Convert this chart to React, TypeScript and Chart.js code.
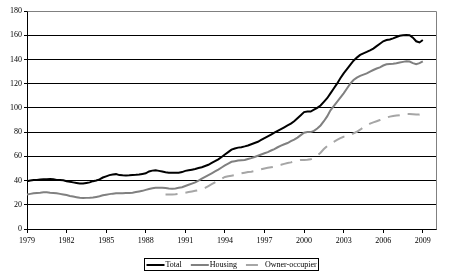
import React, { useEffect, useRef } from "react";
import { Chart, registerables } from "chart.js";

Chart.register(...registerables);

// Categories: quarters from 1979 Q1 to 2010 Q1 (axis end)
const firstYear = 1979;
const lastYear = 2009;
const quarterNames = ["Q1", "Q2", "Q3", "Q4"];
const labelStepQuarters = 12; // a label every 3 years

const yTicksMax = 180;
const yTicksStep = 20;

// Index, quarterly
const totalValues = [
  39.5, 40, 40.5, 40.5, // 1979
  40.8, 41, 41, 41.2, // 1980
  41, 40.5, 40.5, 40.2, // 1981
  39.5, 39, 38.5, 38, // 1982
  37.5, 37.5, 38, 38.5, // 1983
  39.5, 40, 41, 42.5, // 1984
  43.5, 44.5, 45, 45.3, // 1985
  44.5, 44.3, 44.2, 44.3, // 1986
  44.5, 44.7, 45, 45.5, // 1987
  46, 47.5, 48.2, 48.5, // 1988
  48, 47.5, 46.8, 46.5, // 1989
  46.5, 46.5, 46.5, 47, // 1990
  48, 48.5, 49, 49.5, // 1991
  50.3, 51, 52, 53, // 1992
  54.5, 56, 57.5, 59.5, // 1993
  61.5, 63.5, 65.5, 66.5, // 1994
  67.2, 67.5, 68.2, 69, // 1995
  70, 71, 72, 73.5, // 1996
  75, 76.5, 78, 79.5, // 1997
  81, 82.5, 84, 85.5, // 1998
  87, 89, 91.5, 94, // 1999
  96.5, 97, 97, 98.5, // 2000
  100, 102, 105, 108, // 2001
  112, 116, 120, 124.5, // 2002
  128.5, 132, 135.5, 139, // 2003
  141.5, 143.7, 145, 146.2, // 2004
  147.5, 149, 151, 153, // 2005
  155, 156, 156.5, 157.4, // 2006
  158.5, 159.5, 160, 160.2, // 2007
  160, 158, 155, 154, // 2008
  156, // 2009
];

const housingValues = [
  28.5, 29, 29.5, 29.8, // 1979
  30, 30.3, 30.3, 30, // 1980
  29.8, 29.5, 29, 28.5, // 1981
  28, 27.3, 26.8, 26.3, // 1982
  25.8, 25.6, 25.7, 25.8, // 1983
  26, 26.5, 27, 27.8, // 1984
  28.3, 28.8, 29.2, 29.5, // 1985
  29.5, 29.6, 29.7, 29.8, // 1986
  30, 30.5, 31, 31.5, // 1987
  32.3, 33, 33.6, 34, // 1988
  34, 34.1, 33.8, 33.5, // 1989
  33.3, 33.5, 34, 34.5, // 1990
  35.5, 36.5, 37.5, 38.5, // 1991
  40, 41.5, 43, 44.5, // 1992
  46, 47.5, 49, 50.8, // 1993
  52.5, 54, 55.5, 56, // 1994
  56.5, 56.8, 57, 57.8, // 1995
  58.5, 59.5, 60.5, 61.5, // 1996
  62.5, 63.5, 64.8, 66, // 1997
  67.5, 68.8, 70, 71, // 1998
  72.5, 73.8, 75.5, 77.5, // 1999
  79.5, 80, 80, 81, // 2000
  83, 85.5, 89, 93, // 2001
  98, 101.5, 105, 108.5, // 2002
  112, 116, 120, 123, // 2003
  125, 126.5, 127.5, 128.5, // 2004
  130, 131.3, 132.5, 133.5, // 2005
  135, 136, 136.3, 136.5, // 2006
  136.8, 137.5, 138, 138.5, // 2007
  138.3, 137, 136, 137, // 2008
  138.5, // 2009
];

const ownerLeadingGaps = 42; // no data before 1989 Q3
const ownerValues = [
  28.5, 28.5, // 1989 Q3-Q4
  28.5, 28.7, 29, 29.5, // 1990
  30, 30.5, 31, 31.5, // 1991
  32, 33, 34, 35.5, // 1992
  37, 38.5, 40, 41.5, // 1993
  43, 43.5, 44, 44.5, // 1994
  45.2, 46, 46.5, 47, // 1995
  47.3, 47.8, 48.5, 49.3, // 1996
  50, 50.5, 51, 51.5, // 1997
  52.3, 53, 53.8, 54.5, // 1998
  55, 55.8, 56.5, 57, // 1999
  57, 57.2, 57.5, 58.5, // 2000
  60.5, 63, 66, 68.5, // 2001
  70.5, 72, 73.5, 75, // 2002
  76.2, 76.5, 77.5, 79, // 2003
  80.3, 82, 84, 85.5, // 2004
  87, 88, 89, 90, // 2005
  91, 92, 92.8, 93.3, // 2006
  93.8, 94, 94.5, 95, // 2007
  95, 94.8, 94.5, 94.5, // 2008
  95.5, // 2009
];

const seriesNames = ["Total", "Housing", "Owner-occupier"];

const FONT = '"Liberation Serif", "Times New Roman", serif';

function buildLabels(): string[] {
  const out: string[] = [];
  for (let y = firstYear; y <= lastYear; y++) {
    for (const q of quarterNames) out.push(`${y} ${q}`);
  }
  out.push(`${lastYear + 1} ${quarterNames[0]}`);
  return out;
}

const frameAndLegend = {
  id: "frameAndLegend",
  beforeDatasetsDraw(chart: any) {
    const { ctx, chartArea } = chart;
    ctx.save();
    ctx.strokeStyle = "#808080";
    ctx.lineWidth = 1;
    ctx.beginPath();
    const r = Math.round(chartArea.right) + 0.5;
    const t = Math.round(chartArea.top) + 0.5;
    ctx.moveTo(Math.round(chartArea.left) + 0.5, t);
    ctx.lineTo(r, t);
    ctx.lineTo(r, Math.round(chartArea.bottom) + 0.5);
    ctx.stroke();
    ctx.restore();
  },
  afterDraw(chart: any) {
    const { ctx, chartArea } = chart;
    ctx.save();
    ctx.font = `8px ${FONT}`;
    const sample = 18;
    const textGap = 1;
    const itemGap = 9;
    const pad = 2;
    const items = chart.data.datasets.map((ds: any) => ({
      label: ds.label,
      color: ds.borderColor,
      dash: ds.borderDash || [],
      width: ds.borderWidth,
      textWidth: ctx.measureText(ds.label).width,
    }));
    const total =
      items.reduce((a: number, it: any) => a + sample + textGap + it.textWidth, 0) +
      itemGap * (items.length - 1) +
      pad * 2;
    const cx = (chartArea.left + chartArea.right) / 2;
    const left = Math.round(cx - total / 2) + 0.5;
    const top = 258.5;
    const h = 12;
    ctx.strokeStyle = "#000";
    ctx.lineWidth = 1;
    ctx.setLineDash([]);
    ctx.strokeRect(left, top, Math.round(total), h);
    const midY = top + h / 2;
    let x = left + pad;
    for (const it of items) {
      ctx.save();
      ctx.strokeStyle = it.color;
      ctx.lineWidth = it.width;
      ctx.setLineDash(it.dash);
      ctx.beginPath();
      ctx.moveTo(x, Math.round(midY));
      ctx.lineTo(x + sample, Math.round(midY));
      ctx.stroke();
      ctx.restore();
      ctx.fillStyle = "#000";
      ctx.textBaseline = "middle";
      ctx.textAlign = "left";
      ctx.fillText(it.label, x + sample + textGap, midY + 0.5);
      x += sample + textGap + it.textWidth + itemGap;
    }
    ctx.restore();
  },
};

export default function App() {
  const ref = useRef<HTMLCanvasElement | null>(null);

  useEffect(() => {
    document.body.style.margin = "0";
    const canvas = ref.current;
    if (!canvas) return;
    const labels = buildLabels();
    const owner = [...Array(ownerLeadingGaps).fill(null), ...ownerValues];

    const chart = new Chart(canvas, {
      type: "line",
      data: {
        labels,
        datasets: [
          {
            label: seriesNames[0],
            data: totalValues,
            borderColor: "#000000",
            borderWidth: 2,
            pointRadius: 0,
            tension: 0,
          },
          {
            label: seriesNames[1],
            data: housingValues,
            borderColor: "#808080",
            borderWidth: 2,
            pointRadius: 0,
            tension: 0,
          },
          {
            label: seriesNames[2],
            data: owner,
            borderColor: "#a6a6a6",
            borderWidth: 2,
            borderDash: [12, 8],
            pointRadius: 0,
            tension: 0,
          },
        ],
      },
      options: {
        responsive: false,
        devicePixelRatio: 1,
        animation: false,
        layout: { padding: { top: 11, right: 18, bottom: 29, left: 0 } },
        plugins: {
          legend: { display: false },
          tooltip: { enabled: false },
        },
        font: { family: FONT, size: 8 },
        scales: {
          x: {
            type: "category",
            offset: false,
            grid: {
              display: true,
              drawOnChartArea: false,
              drawTicks: true,
              tickLength: 4,
              color: "#000",
            },
            border: { display: true, color: "#000", width: 1 },
            ticks: {
              autoSkip: false,
              maxRotation: 0,
              minRotation: 0,
              padding: 3,
              color: "#000",
              font: { family: FONT, size: 8 },
              callback: (_v: any, i: number) =>
                i % labelStepQuarters === 0 && i < labels.length - 1
                  ? labels[i].slice(0, 4)
                  : null,
            },
            afterFit: (s: any) => {
              s.height = 20;
            },
          },
          y: {
            min: 0,
            max: yTicksMax,
            grid: {
              color: (c: any) =>
                c.tick && c.tick.value === yTicksMax ? "#808080" : "#000",
              tickColor: "#000",
              tickLength: 3,
              lineWidth: 1,
            },
            border: { display: true, color: "#000", width: 1 },
            ticks: {
              stepSize: yTicksStep,
              padding: 2,
              color: "#000",
              font: { family: FONT, size: 8 },
            },
            afterFit: (s: any) => {
              s.width = 27;
            },
          },
        },
      },
      plugins: [frameAndLegend],
    });
    return () => chart.destroy();
  }, []);

  return (
    <canvas
      ref={ref}
      width={454}
      height={278}
      style={{ display: "block", width: 454, height: 278 }}
    />
  );
}
